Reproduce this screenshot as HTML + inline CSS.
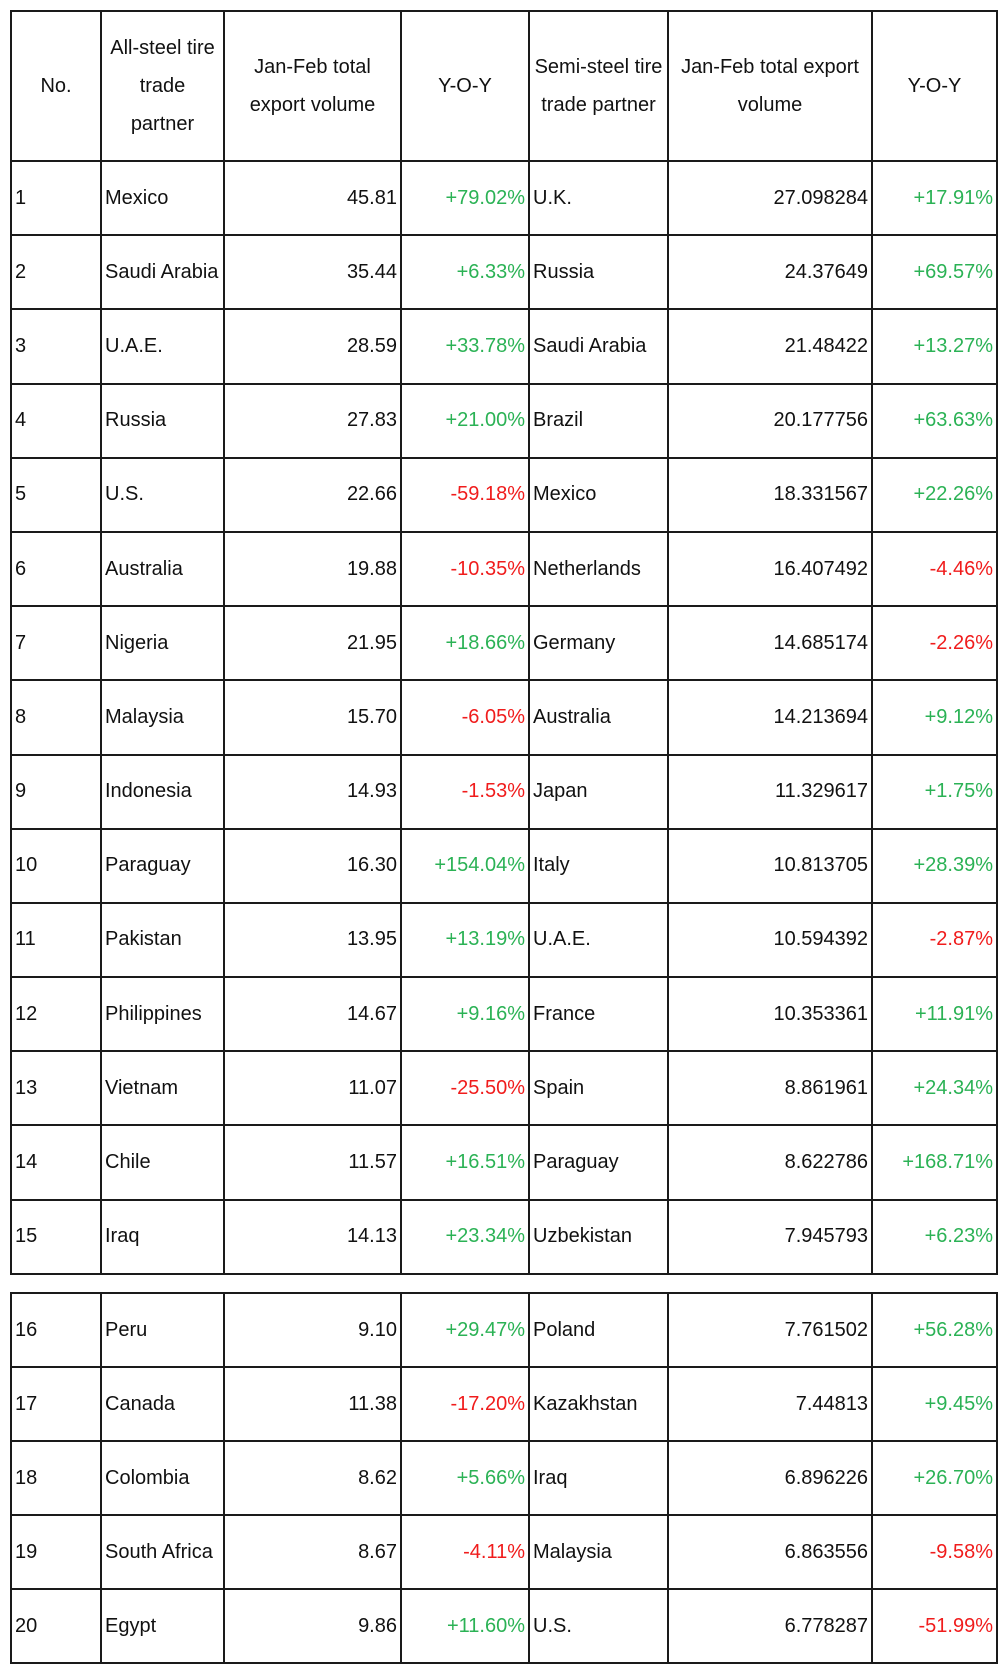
<!DOCTYPE html>
<html><head><meta charset="utf-8">
<style>
body{margin:0;width:1003px;height:1670px;background:#fff;position:relative;overflow:hidden;font-family:"Liberation Sans",Arial,sans-serif;font-size:20px;color:#111}
table{position:absolute;border-collapse:collapse;table-layout:fixed}
td{border:2px solid #1a1a1a;padding:0 3px;white-space:nowrap;overflow:hidden}
.h td{text-align:center;line-height:38px}
.r{text-align:right}
.g{color:#2bb255;text-align:right}
.d{color:#f01c1c;text-align:right}
</style></head><body>
<table id="t1" style="left:10px;top:10px;width:986px">
<colgroup><col style="width:90px"><col style="width:123px"><col style="width:177px"><col style="width:128px"><col style="width:139px"><col style="width:204px"><col style="width:125px"></colgroup>
<tr class="h" style="height:150px"><td>No.</td><td>All-steel tire<br>trade<br>partner</td><td>Jan-Feb total<br>export volume</td><td>Y-O-Y</td><td>Semi-steel tire<br>trade partner</td><td>Jan-Feb total export<br>volume</td><td>Y-O-Y</td></tr>
</table>
<table id="t2" style="left:10px;top:1292px;width:986px">
<colgroup><col style="width:90px"><col style="width:123px"><col style="width:177px"><col style="width:128px"><col style="width:139px"><col style="width:204px"><col style="width:125px"></colgroup>
</table>
<script>
const nos=[1,2,3,4,5,6,7,8,9,10,11,12,13,14,15,16,17,18,19,20];
const allPartners=["Mexico","Saudi Arabia","U.A.E.","Russia","U.S.","Australia","Nigeria","Malaysia","Indonesia","Paraguay","Pakistan","Philippines","Vietnam","Chile","Iraq","Peru","Canada","Colombia","South Africa","Egypt"];
const allVolumes=["45.81","35.44","28.59","27.83","22.66","19.88","21.95","15.70","14.93","16.30","13.95","14.67","11.07","11.57","14.13","9.10","11.38","8.62","8.67","9.86"];
const allYoy=["+79.02%","+6.33%","+33.78%","+21.00%","-59.18%","-10.35%","+18.66%","-6.05%","-1.53%","+154.04%","+13.19%","+9.16%","-25.50%","+16.51%","+23.34%","+29.47%","-17.20%","+5.66%","-4.11%","+11.60%"];
const semiPartners=["U.K.","Russia","Saudi Arabia","Brazil","Mexico","Netherlands","Germany","Australia","Japan","Italy","U.A.E.","France","Spain","Paraguay","Uzbekistan","Poland","Kazakhstan","Iraq","Malaysia","U.S."];
const semiVolumes=["27.098284","24.37649","21.48422","20.177756","18.331567","16.407492","14.685174","14.213694","11.329617","10.813705","10.594392","10.353361","8.861961","8.622786","7.945793","7.761502","7.44813","6.896226","6.863556","6.778287"];
const semiYoy=["+17.91%","+69.57%","+13.27%","+63.63%","+22.26%","-4.46%","-2.26%","+9.12%","+1.75%","+28.39%","-2.87%","+11.91%","+24.34%","+168.71%","+6.23%","+56.28%","+9.45%","+26.70%","-9.58%","-51.99%"];
const t1=document.getElementById('t1'),t2=document.getElementById('t2');
nos.forEach((n,i)=>{
  const tr=document.createElement('tr');
  
  
  tr.style.height=(i<15?74.2:74)+'px';
  const cells=[[n,''],[allPartners[i],''],[allVolumes[i],'r'],[allYoy[i],allYoy[i][0]=='-'?'d':'g'],[semiPartners[i],''],[semiVolumes[i],'r'],[semiYoy[i],semiYoy[i][0]=='-'?'d':'g']];
  const names=['rank','all-steel-partner','all-steel-volume','all-steel-yoy','semi-steel-partner','semi-steel-volume','semi-steel-yoy'];
  cells.forEach((c,j)=>{
    const td=document.createElement('td');
    
    
    td.textContent=c[0];
    if(c[1])td.className=c[1];
    tr.appendChild(td);
  });
  (i<15?t1:t2).appendChild(tr);
});
</script>
</body></html>
